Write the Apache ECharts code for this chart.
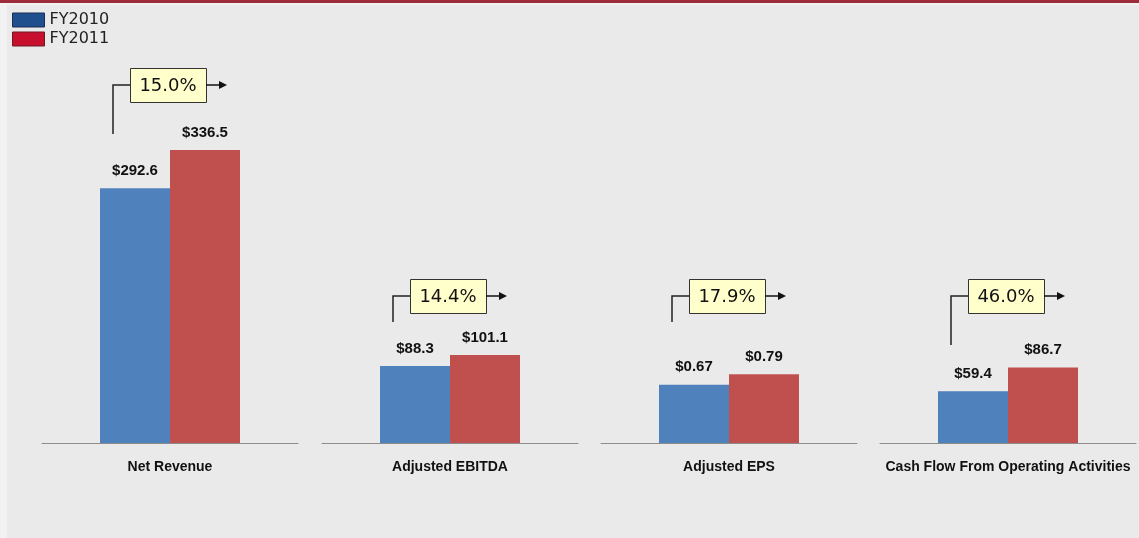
<!DOCTYPE html>
<html>
<head>
<meta charset="utf-8">
<title>FY2010 vs FY2011 Financial Highlights</title>
<script src="https://cdn.jsdelivr.net/npm/echarts@6/dist/echarts.min.js"></script>
<style>
  html, body { margin: 0; padding: 0; background: #f2f2f2; }
  #chart { width: 1139px; height: 538px; }
</style>
</head>
<body>
<div id="chart"></div>
<script>
// Metrics and their yearly values
const categories = ['Net Revenue', 'Adjusted EBITDA', 'Adjusted EPS', 'Cash Flow From Operating Activities'];
const fy2010 = [292.6, 88.3, 0.67, 59.4];
const fy2011 = [336.5, 101.1, 0.79, 86.7];
const growthPct = [15.0, 14.4, 17.9, 46.0];
const decimals = [1, 1, 2, 1];
// Value-axis ceiling per metric (EPS is in dollars per share)
const axisMax = [400, 400, 4, 400];

// Layout of the four panels and their growth callouts (pixels)
const groupCenters = [170, 450, 729, 1008];
const panelHalfWidth = 128;
const calloutY = [85, 296, 296, 296];
const stemBottomY = [134, 322, 322, 345];

const BLUE = '#4f81bd';
const RED = '#c0504d';

const chart = echarts.init(document.getElementById('chart'), null, { renderer: 'canvas' });

const grids = [], xAxes = [], yAxes = [], series = [];

categories.forEach(function (name, i) {
  grids.push({
    left: groupCenters[i] - panelHalfWidth,
    width: panelHalfWidth * 2,
    top: 94.6,
    bottom: 95,
    containLabel: false
  });
  xAxes.push({
    type: 'category',
    gridIndex: i,
    data: [name],
    axisTick: { show: false },
    axisLine: { lineStyle: { color: '#8c8c8c', width: 1 } },
    axisLabel: {
      margin: 17,
      color: '#111',
      fontFamily: 'Liberation Sans, Arial, sans-serif',
      fontWeight: 'bold',
      fontSize: 14,
      interval: 0
    }
  });
  yAxes.push({
    type: 'value',
    gridIndex: i,
    min: 0,
    max: axisMax[i],
    show: false,
    splitLine: { show: false }
  });

  const valueLabel = {
    show: true,
    position: 'top',
    distance: 10,
    color: '#111',
    fontFamily: 'Liberation Sans, Arial, sans-serif',
    fontWeight: 'bold',
    fontSize: 15,
    formatter: function (p) { return '$' + p.value.toFixed(decimals[i]); }
  };

  series.push({
    name: 'FY2010',
    type: 'bar',
    xAxisIndex: i,
    yAxisIndex: i,
    barWidth: 70,
    barGap: '0%',
    itemStyle: { color: BLUE },
    label: valueLabel,
    data: [fy2010[i]]
  });
  series.push({
    name: 'FY2011',
    type: 'bar',
    xAxisIndex: i,
    yAxisIndex: i,
    barWidth: 70,
    barGap: '0%',
    itemStyle: { color: RED },
    label: valueLabel,
    data: [fy2011[i]]
  });

  // Growth callout: stem, boxed percentage and arrow
  series.push({
    type: 'custom',
    xAxisIndex: i,
    yAxisIndex: i,
    silent: true,
    z: 10,
    clip: false,
    data: [[0, 0]],
    encode: { x: 0, y: 1 },
    renderItem: function (params, api) {
      const cx = api.coord([0, 0])[0];
      const cy = calloutY[i];
      const stemX = cx - 57;
      const boxL = cx - 40, boxW = 76, boxH = 34;
      const boxR = boxL + boxW;
      const tip = cx + 57;
      return {
        type: 'group',
        children: [
          {
            type: 'polyline',
            shape: { points: [[stemX, stemBottomY[i]], [stemX, cy], [boxL, cy]] },
            style: { stroke: '#222', lineWidth: 1.5, fill: null }
          },
          {
            type: 'rect',
            shape: { x: boxL + 0.5, y: cy - boxH / 2 + 0.5, width: boxW, height: boxH },
            style: { fill: '#ffffcc', stroke: '#333', lineWidth: 1 }
          },
          {
            type: 'text',
            style: {
              x: boxL + boxW / 2,
              y: cy + 1,
              text: growthPct[i].toFixed(1) + '%',
              align: 'center',
              verticalAlign: 'middle',
              fill: '#111',
              font: '18px "DejaVu Sans", Verdana, sans-serif'
            }
          },
          {
            type: 'line',
            shape: { x1: boxR, y1: cy, x2: tip - 6, y2: cy },
            style: { stroke: '#111', lineWidth: 1.5 }
          },
          {
            type: 'polygon',
            shape: { points: [[tip - 8, cy - 4], [tip, cy], [tip - 8, cy + 4]] },
            style: { fill: '#111' }
          }
        ]
      };
    }
  });
});

chart.setOption({
  backgroundColor: '#f2f2f2',
  animation: false,
  graphic: [
    {
      type: 'rect',
      silent: true,
      z: -10,
      shape: { x: 7, y: 5, width: 1132, height: 533 },
      style: { fill: '#eaeaea' }
    },
    {
      type: 'rect',
      silent: true,
      z: -9,
      shape: { x: 0, y: 0, width: 1139, height: 3 },
      style: { fill: '#9e2b3b' }
    }
  ],
  legend: {
    orient: 'vertical',
    left: 12,
    top: 12,
    padding: 0,
    itemWidth: 32,
    itemHeight: 14,
    itemGap: 3,
    itemTextGap: 4,
    icon: 'rect',
    selectedMode: false,
    textStyle: {
      color: '#222',
      fontFamily: '"DejaVu Sans", Verdana, sans-serif',
      fontSize: 16,
      lineHeight: 16
    },
    data: [
      { name: 'FY2010', itemStyle: { color: '#1f4f8c', borderColor: '#1a2f55', borderWidth: 1 } },
      { name: 'FY2011', itemStyle: { color: '#c8102e', borderColor: '#6b1a24', borderWidth: 1 } }
    ]
  },
  grid: grids,
  xAxis: xAxes,
  yAxis: yAxes,
  series: series
});
</script>
</body>
</html>
